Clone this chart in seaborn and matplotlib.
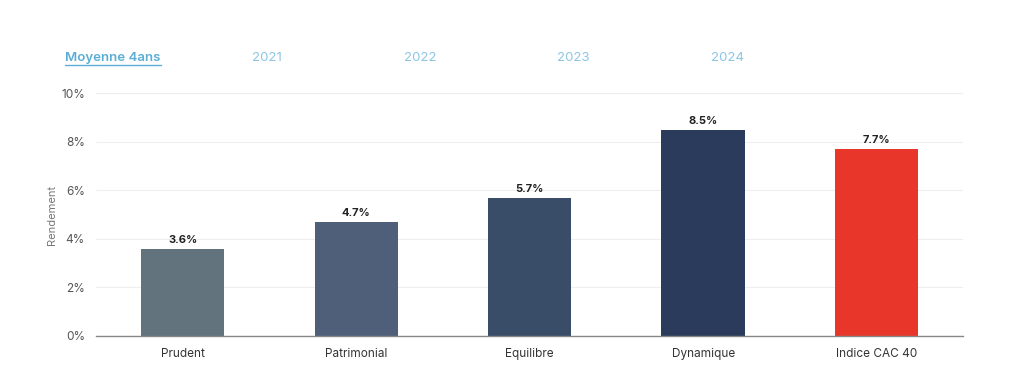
import pandas as pd
import matplotlib.pyplot as plt
import seaborn as sns
from matplotlib.lines import Line2D

# Données
profils = ['Prudent', 'Patrimonial', 'Equilibre', 'Dynamique', 'Indice CAC 40']
rendements = [3.6, 4.7, 5.7, 8.5, 7.7]
couleurs = ['#62737e', '#4f5f7a', '#3a4d68', '#2a3b5c', '#e8362a']
onglets = ['Moyenne 4ans', '2021', '2022', '2023', '2024']
ticks_y = [0, 2, 4, 6, 8, 10]

sns.set_theme(style="whitegrid")
plt.rcParams['font.family'] = ['Inter', 'DejaVu Sans']

df = pd.DataFrame({'Profil': profils, 'Rendement': rendements})

fig = plt.figure(figsize=(10.24, 3.72), dpi=100)
ax = fig.add_axes([0.09375, 0.0968, 0.847, 0.653])

sns.barplot(x='Profil', y='Rendement', data=df, hue='Profil', palette=couleurs,
            saturation=1, legend=False, width=0.48, ax=ax, edgecolor='none')

ax.set_ylim(0, 10)
ax.set_xlim(-0.5, 4.5)
ax.set_yticks(ticks_y)
ax.set_yticklabels([f'{t}%' for t in ticks_y], color='#555555', fontsize=8.5)
ax.tick_params(axis='x', colors='#333333', labelsize=8.5, length=0, pad=9)
ax.tick_params(axis='y', length=0, pad=8)
ax.set_xlabel('')
ax.set_ylabel('Rendement', color='#777777', fontsize=8, labelpad=3)
ax.grid(axis='y', color='#eeeeee', linewidth=0.8)
ax.grid(axis='x', visible=False)
for s in ['top', 'right', 'left']:
    ax.spines[s].set_visible(False)
ax.spines['bottom'].set_color('#888888')
ax.spines['bottom'].set_linewidth(1.0)

# Étiquettes des valeurs
for i, v in enumerate(rendements):
    ax.text(i, v + 0.15, f'{v}%', ha='center', va='bottom', fontsize=8,
            fontweight='bold', color='#222222')

# Onglets en haut
pos_x = [113, 267, 420, 573, 727]
for i, (lab, x) in enumerate(zip(onglets, pos_x)):
    if i == 0:
        t = fig.text(x / 1024, 1 - 58 / 372, lab, ha='center', va='center',
                     fontsize=9.5, fontweight='semibold', color='#5aaed6')
    else:
        fig.text(x / 1024, 1 - 58 / 372, lab, ha='center', va='center',
                 fontsize=9.5, color='#8cc6e4')

# Soulignement de "Moyenne 4ans"
fig.canvas.draw()
bb = t.get_window_extent().transformed(fig.transFigure.inverted())
fig.add_artist(Line2D([bb.x0, bb.x1], [bb.y0 - 0.004, bb.y0 - 0.004],
                      color='#5aaed6', linewidth=1.0, transform=fig.transFigure))

fig.savefig('out.png', dpi=100, facecolor='white')
